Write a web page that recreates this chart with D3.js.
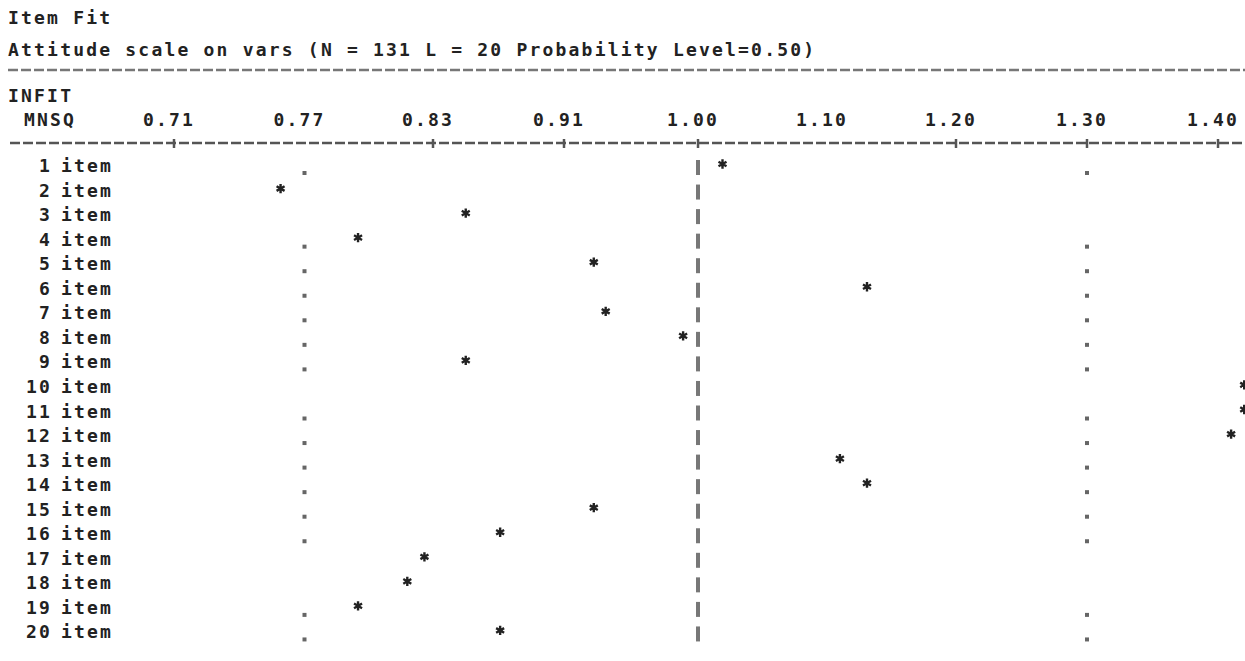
<!DOCTYPE html>
<html>
<head>
<meta charset="utf-8">
<script src="https://cdn.jsdelivr.net/npm/d3@7"></script>
<style>
  html, body { margin: 0; padding: 0; background: #fff; }
  svg { display: block; }
  text { font-family: "DejaVu Sans Mono", "Liberation Mono", monospace; font-weight: bold; fill: #222; }
</style>
</head>
<body>
<svg id="chart" width="1245" height="661"></svg>
<script>
// Item fit map: INFIT mean squares per item
const titleText = "Item Fit";
const subtitleText = "Attitude scale on vars (N = 131 L = 20 Probability Level=0.50)";

const tickValues = [0.71, 0.77, 0.83, 0.91, 1.00, 1.10, 1.20, 1.30, 1.40];
const tickLabels = ["0.71", "0.77", "0.83", "0.91", "1.00", "1.10", "1.20", "1.30", "1.40"];
const plusTicks = [0.71, 0.83, 0.91, 1.00, 1.20, 1.30, 1.40];

const itemNumbers = [1, 2, 3, 4, 5, 6, 7, 8, 9, 10, 11, 12, 13, 14, 15, 16, 17, 18, 19, 20];
const infitMnsq = [1.019, 0.759, 0.85, 0.795, 0.93, 1.131, 0.938, 0.99, 0.85, 1.42,
                   1.42, 1.41, 1.11, 1.131, 0.93, 0.871, 0.826, 0.818, 0.795, 0.871];

// rows that print the acceptance bounds
const boundRows = [1, 4, 5, 6, 7, 8, 9, 11, 12, 13, 14, 15, 16, 19, 20];
const lowerBound = 0.77;
const upperBound = 1.30;

const svg = d3.select("#chart");
svg.append("rect").attr("width", 1245).attr("height", 661).attr("fill", "#fff");

// equally spaced MNSQ labels (log-like ruler)
const x = d3.scaleLinear()
  .domain(tickValues)
  .range([174, 304.5, 433, 564, 698, 827, 956, 1087, 1218]);

const y = d3.scalePoint()
  .domain(itemNumbers)
  .range([164, 164 + 19 * 24.55]);

const fontSize = 18;
const spacing = 2.2;

function txt(s, xx, yy, anchor) {
  return svg.append("text")
    .attr("x", xx).attr("y", yy)
    .attr("text-anchor", anchor || "start")
    .style("font-size", fontSize + "px")
    .style("letter-spacing", spacing + "px")
    .text(s);
}

// heading
txt(titleText, 8, 24);
txt(subtitleText, 8, 56);

// rule under the heading
svg.append("line")
  .attr("x1", 8).attr("x2", 1245).attr("y1", 70).attr("y2", 70)
  .attr("stroke", "#777").attr("stroke-width", 2.5)
  .attr("stroke-dasharray", "10,3");

txt("INFIT", 8, 102);
txt("MNSQ", 24, 126);

// scale labels
svg.append("g").selectAll("text")
  .data(tickValues)
  .join("text")
  .attr("x", (d) => x(d) - 5)
  .attr("y", 126)
  .attr("text-anchor", "middle")
  .style("font-size", fontSize + "px")
  .style("letter-spacing", spacing + "px")
  .text((d, i) => tickLabels[i]);

// ruler line with plus marks
svg.append("line")
  .attr("x1", 10).attr("x2", 1245).attr("y1", 143).attr("y2", 143)
  .attr("stroke", "#555").attr("stroke-width", 2.5)
  .attr("stroke-dasharray", "10,3");

svg.append("g").selectAll("line")
  .data(plusTicks)
  .join("line")
  .attr("x1", (d) => x(d)).attr("x2", (d) => x(d))
  .attr("y1", 139).attr("y2", 148)
  .attr("stroke", "#555").attr("stroke-width", 2.5);

// item labels
const rows = svg.append("g");
rows.selectAll("text.num")
  .data(itemNumbers)
  .join("text")
  .attr("class", "num")
  .attr("x", 52)
  .attr("y", (d) => y(d) + 8)
  .attr("text-anchor", "end")
  .style("font-size", fontSize + "px")
  .style("letter-spacing", spacing + "px")
  .text((d) => d);

rows.selectAll("text.lab")
  .data(itemNumbers)
  .join("text")
  .attr("class", "lab")
  .attr("x", 61)
  .attr("y", (d) => y(d) + 8)
  .style("font-size", fontSize + "px")
  .style("letter-spacing", spacing + "px")
  .text("item");

// expected value bar at MNSQ = 1
rows.selectAll("line.mid")
  .data(itemNumbers)
  .join("line")
  .attr("class", "mid")
  .attr("x1", x(1.00)).attr("x2", x(1.00))
  .attr("y1", (d) => y(d) - 4)
  .attr("y2", (d) => y(d) + 11)
  .attr("stroke", "#777").attr("stroke-width", 4);

// acceptance bounds
const boundData = boundRows.flatMap((r) => [
  { row: r, v: lowerBound },
  { row: r, v: upperBound }
]);
rows.selectAll("rect.bound")
  .data(boundData)
  .join("rect")
  .attr("class", "bound")
  .attr("x", (d) => x(d.v) - 2)
  .attr("y", (d) => y(d.row) + 7)
  .attr("width", 4).attr("height", 4)
  .attr("fill", "#666");

// item INFIT values
const star = d3.symbol().type(d3.symbolAsterisk).size(60);
rows.selectAll("path.pt")
  .data(itemNumbers)
  .join("path")
  .attr("class", "pt")
  .attr("d", star)
  .attr("transform", (d, i) => `translate(${x(infitMnsq[i])},${y(d)})`)
  .attr("fill", "none")
  .attr("stroke", "#222")
  .attr("stroke-width", 2.4);
</script>
</body>
</html>
